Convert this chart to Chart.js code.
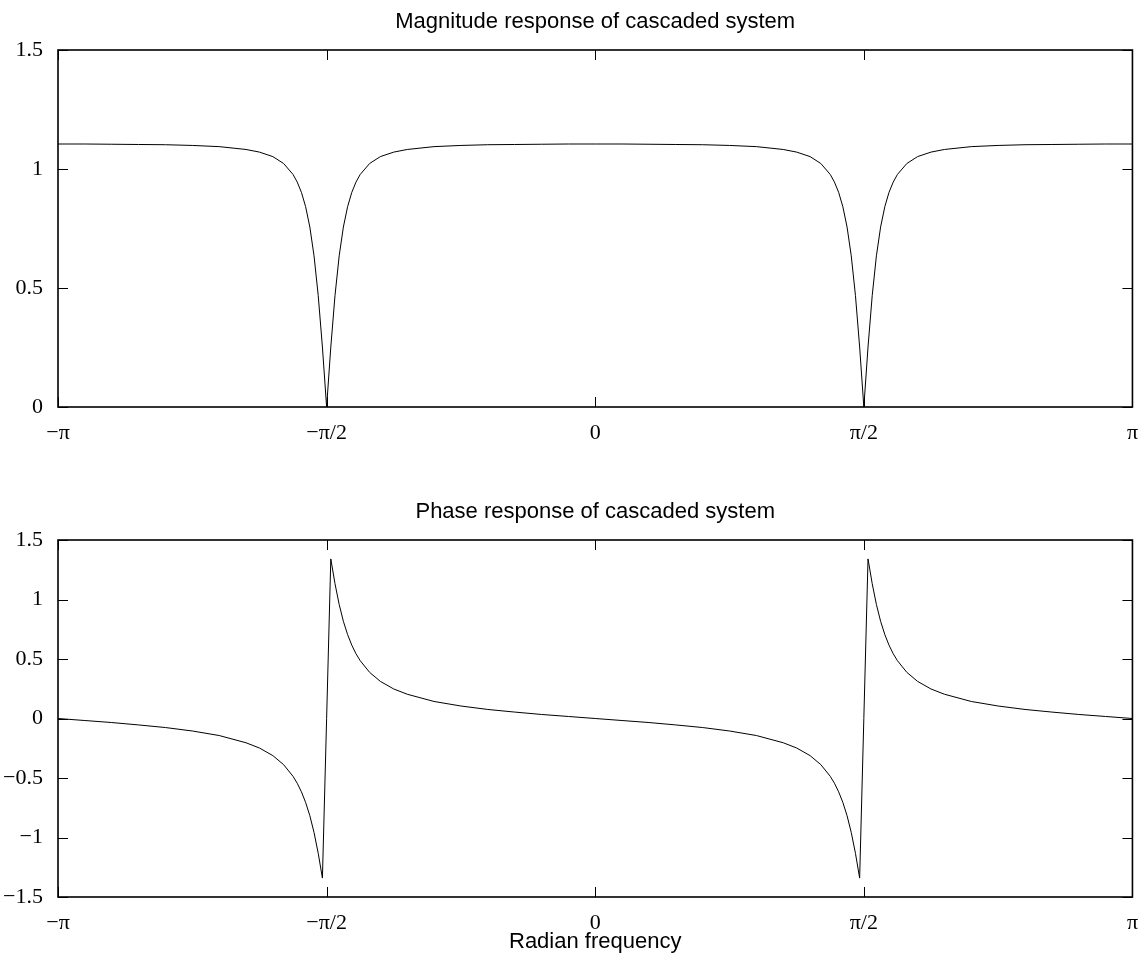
<!DOCTYPE html>
<html>
<head>
<meta charset="utf-8">
<script src="https://cdn.jsdelivr.net/npm/chart.js@4.4.1/dist/chart.umd.min.js"></script>
<style>
  body { margin: 0; background: #fff; }
  #wrap { position: relative; width: 1143px; height: 961px; }
  canvas { position: absolute; left: 0; }
  #magChart { top: 0; }
  #phaseChart { top: 470px; }
</style>
</head>
<body>
<div id="wrap">
  <canvas id="magChart" width="1143" height="470"></canvas>
  <canvas id="phaseChart" width="1143" height="491"></canvas>
</div>
<script>
// frequency in units of pi
const freqPi = [
  -1, -0.95, -0.9, -0.85, -0.8, -0.75, -0.7, -0.65, -0.625, -0.6, -0.58, -0.5625, -0.5547, -0.5469, -0.5391, -0.5312, -0.5234, -0.5156, -0.5078, -0.5,
  -0.4922, -0.4844, -0.4766, -0.4688, -0.4609, -0.4531, -0.4453, -0.4375, -0.42, -0.4, -0.375, -0.35, -0.3, -0.25, -0.2, -0.15, -0.1, -0.05, 0,
  0.05, 0.1, 0.15, 0.2, 0.25, 0.3, 0.35, 0.375, 0.4, 0.42, 0.4375, 0.4453, 0.4531, 0.4609, 0.4688, 0.4766, 0.4844, 0.4922, 0.5,
  0.5078, 0.5156, 0.5234, 0.5312, 0.5391, 0.5469, 0.5547, 0.5625, 0.58, 0.6, 0.625, 0.65, 0.7, 0.75, 0.8, 0.85, 0.9, 0.95, 1
];

const magnitude = [
  1.105, 1.105, 1.104, 1.103, 1.102, 1.099, 1.094, 1.082, 1.071, 1.052, 1.023, 0.977, 0.945, 0.902, 0.842, 0.756, 0.635, 0.468, 0.252, 0,
  0.252, 0.468, 0.635, 0.756, 0.842, 0.902, 0.945, 0.977, 1.023, 1.052, 1.071, 1.082, 1.094, 1.099, 1.102, 1.103, 1.104, 1.105, 1.105,
  1.105, 1.104, 1.103, 1.102, 1.099, 1.094, 1.082, 1.071, 1.052, 1.023, 0.977, 0.945, 0.902, 0.842, 0.756, 0.635, 0.468, 0.252, 0,
  0.252, 0.468, 0.635, 0.756, 0.842, 0.902, 0.945, 0.977, 1.023, 1.052, 1.071, 1.082, 1.094, 1.099, 1.102, 1.103, 1.104, 1.105, 1.105
];

const phase = [
  0, -0.017, -0.034, -0.054, -0.076, -0.105, -0.143, -0.204, -0.248, -0.312, -0.388, -0.486, -0.544, -0.616, -0.705, -0.817, -0.958, -1.133, -1.341, 0,
  1.341, 1.133, 0.958, 0.817, 0.705, 0.616, 0.544, 0.486, 0.388, 0.312, 0.248, 0.204, 0.143, 0.105, 0.076, 0.054, 0.034, 0.017, 0,
  -0.017, -0.034, -0.054, -0.076, -0.105, -0.143, -0.204, -0.248, -0.312, -0.388, -0.486, -0.544, -0.616, -0.705, -0.817, -0.958, -1.133, -1.341, 0,
  1.341, 1.133, 0.958, 0.817, 0.705, 0.616, 0.544, 0.486, 0.388, 0.312, 0.248, 0.204, 0.143, 0.105, 0.076, 0.054, 0.034, 0.017, 0
];

const xTickValues = [-1, -0.5, 0, 0.5, 1];
const xTickLabels = ['\u2212\u03c0', '\u2212\u03c0/2', '0', '\u03c0/2', '\u03c0'];
const magRange = [0, 1.5];
const phaseRange = [-1.5, 1.5];

const serif = '"Liberation Serif", "Times New Roman", serif';
const sans = '"Liberation Sans", Arial, sans-serif';

// box, inward ticks on all four sides, title over the plot area
const frame = {
  id: 'frame',
  afterDraw(chart, args, opts) {
    const ctx = chart.ctx;
    const a = chart.chartArea;
    const xs = chart.scales.x;
    const ys = chart.scales.y;
    ctx.save();
    ctx.strokeStyle = '#000';
    ctx.lineWidth = 1;
    ctx.beginPath();
    xs.ticks.forEach(t => {
      const px = Math.round(xs.getPixelForValue(t.value)) + 0.5;
      ctx.moveTo(px, a.bottom); ctx.lineTo(px, a.bottom - 10);
      ctx.moveTo(px, a.top); ctx.lineTo(px, a.top + 10);
    });
    ys.ticks.forEach(t => {
      const py = Math.round(ys.getPixelForValue(t.value)) + 0.5;
      ctx.moveTo(a.left, py); ctx.lineTo(a.left + 10, py);
      ctx.moveTo(a.right, py); ctx.lineTo(a.right - 10, py);
    });
    ctx.stroke();
    ctx.lineWidth = 1.6;
    ctx.strokeRect(a.left, a.top, a.right - a.left, a.bottom - a.top);
    ctx.fillStyle = '#000';
    ctx.font = '22px ' + sans;
    ctx.textAlign = 'center';
    ctx.textBaseline = 'middle';
    ctx.fillText(opts.text, (a.left + a.right) / 2, a.top - 28);
    ctx.restore();
  }
};

function minusSign(v) {
  return String(v).replace('-', '\u2212');
}

function makeChart(id, values, range, title, padTop, xHeight, padBottom, xLabel) {
  const pts = freqPi.map((f, i) => ({ x: f, y: values[i] }));
  return new Chart(document.getElementById(id), {
    type: 'line',
    data: {
      datasets: [{
        data: pts,
        borderColor: '#000',
        borderWidth: 1,
        pointRadius: 0,
        tension: 0,
        fill: false
      }]
    },
    plugins: [frame],
    options: {
      responsive: false,
      animation: false,
      devicePixelRatio: 1,
      layout: { padding: { top: padTop, right: 5, bottom: padBottom, left: 0 } },
      plugins: {
        legend: { display: false },
        tooltip: { enabled: false },
        frame: { text: title }
      },
      scales: {
        x: {
          type: 'linear',
          min: -1,
          max: 1,
          afterBuildTicks: s => { s.ticks = xTickValues.map(v => ({ value: v })); },
          afterFit: s => { s.height = xHeight; },
          grid: { display: false },
          border: { display: false },
          ticks: {
            color: '#000',
            padding: 5,
            maxRotation: 0,
            font: { family: serif, size: 22 },
            callback: v => xTickLabels[xTickValues.indexOf(v)]
          },
          title: {
            display: !!xLabel,
            text: xLabel || '',
            color: '#000',
            font: { family: sans, size: 22 },
            padding: { top: 0, bottom: 6 }
          }
        },
        y: {
          min: range[0],
          max: range[1],
          afterFit: s => { s.width = 58; },
          grid: { display: false },
          border: { display: false },
          ticks: {
            stepSize: 0.5,
            color: '#000',
            padding: 7,
            font: { family: serif, size: 22 },
            callback: v => minusSign(v)
          }
        }
      }
    }
  });
}

makeChart('magChart', magnitude, magRange, 'Magnitude response of cascaded system', 50, 40, 23, null);
makeChart('phaseChart', phase, phaseRange, 'Phase response of cascaded system', 70, 64, 0, 'Radian frequency');
</script>
</body>
</html>
